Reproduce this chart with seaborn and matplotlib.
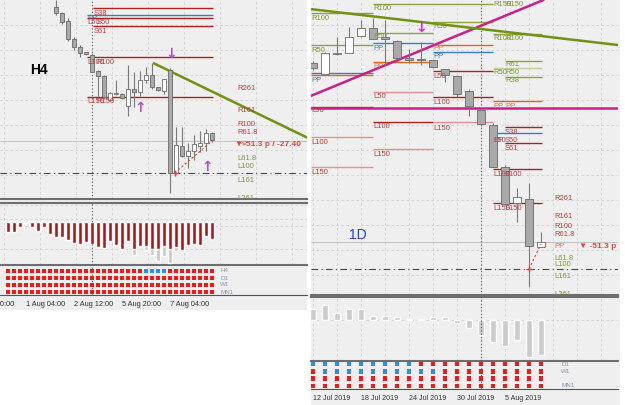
import numpy as np
import pandas as pd
import matplotlib
matplotlib.use('Agg')
import matplotlib.pyplot as plt
from matplotlib.patches import Rectangle
import seaborn as sns

# ---------------- H4 panel data (prices in chart units) ----------------
h4_bar = list(range(8, 35))
h4_open = [193, 187, 179, 161, 153, 148, 145, 129, 124, 100, 106, 106, 94, 111, 108, 120,
           125, 113, 109, 130, 27, 54, 44, 49, 54, 57, 67]
h4_high = [200, 188, 182, 163, 155, 148, 147, 130, 125, 108, 120, 107, 135, 128, 129, 133,
           137, 113, 121, 132, 73, 73, 57, 65, 69, 71, 68]
h4_low = [185, 176, 159, 150, 143, 145, 128, 103, 101, 99, 105, 101, 84, 93, 104, 117,
          111, 109, 106, 7, 26, 43, 32, 40, 48, 49, 58]
h4_close = [187, 178, 161, 153, 147, 146, 128, 124, 103, 107, 107, 102, 111, 108, 120, 125,
            113, 110, 121, 27, 55, 44, 49, 56, 57, 67, 60]

h4_hist = [-10.3, -10.3, -5.3, -0.5, -5, -9.3, -5, -12.3, -14.7, -14.7, -18.3, -21, -22, -20,
           -22, -25.3, -26, -19.3, -22.7, -27, -19.3, -27, -24.3, -23.7, -27, -27, -24.3, -27,
           -25, -28.3, -22.7, -21.7, -22.7, -14.3, -16.7]
h4_hist_gray = [-10.3, -10.3, -5.3, -0.5, -5, -9.3, -5, -12.3, -14.7, -14.7, -18.3, -21, -22,
                -20, -22, -25.3, -26, -19.3, -22.7, -27, -19.3, -33, -24.3, -27.7, -33, -39.3,
                -34, -41, -28.7, -30, -22.7, -21.7, -22.7, -14.3, -16.7]

h4_rows = ['H4', 'D1', 'W1', 'MN1']
h4_signal = ['R' * 23 + 'B' * 4 + 'R' * 8, 'R' * 35, 'R' * 35, 'R' * 35]

h4_lvl_price = [192, 184.7, 182, 174, 142.7, 103.3]
h4_lvl_start = [14.2, 13.2, 13.2, 14.2, 13.2, 13.2]
h4_lvl_end = [34.2] * 6
h4_lvl_kind = ['r', 'b', 'r', 'r', 'r', 'r']

h4_tag_text = ['S38', 'PP', 'L50', 'S50', 'S61', 'L100', 'R100', 'L150', 'R150']
h4_tag_k = [14.2, 13.2, 13.2, 14.7, 14.2, 13.2, 14.7, 13.2, 14.7]
h4_tag_price = [186.5, 181.5, 177, 177, 168.5, 138, 138, 98.5, 98.5]
h4_tag_kind = ['r', 'b', 'r', 'r', 'r', 'r', 'r', 'r', 'r']

side_text = ['R261', 'R161', 'R100', 'R61.8', 'PP', 'L61.8', 'L100', 'L161', 'L261']
side_kind = ['r', 'r', 'r', 'r', 'o', 'g', 'g', 'g', 'g']
h4_side_price = [111, 90, 76, 68, 56, 42, 33, 19, 1]

h4_trend_k = [24.2, 50]
h4_trend_price = [137, 62]
h4_last_low = 27
h4_bid = 59
h4_path_k = [27.8, 34.2]
h4_path_price = [27, 60]
h4_arrow_k = [27.2, 22, 33.2]
h4_arrow_price = [146, 92, 33]
h4_arrow_dir = ['↓', '↑', '↑']
h4_ticks = [3, 11, 19, 27]
h4_tick_labels = ['1 Aug 04:00', '2 Aug 12:00', '5 Aug 20:00', '7 Aug 04:00']

# ---------------- D1 panel data ----------------
d1_bar = list(range(20))
d1_open = [237, 226, 246, 247, 264, 272, 263, 259, 242, 241, 240, 231, 224, 209, 190, 175,
           133, 97, 101, 53]
d1_high = [239, 248, 263, 273, 280, 282, 280, 260, 251, 258, 240, 231, 224, 211, 192, 177,
           135, 112, 117, 68]
d1_low = [230, 226, 245, 247, 263, 261, 235, 241, 237, 235, 232, 218, 203, 184, 174, 133,
          95, 78, 13, 53]
d1_close = [232, 247, 246.5, 263, 272, 261, 261, 242, 240, 240.5, 233, 225, 206, 194, 176,
            133, 96, 103, 54, 58]

d1_hist = [10.7, 15, 7.3, 10.7, 11.3, 4.3, 4, 3, 1.3, 0.7, 3, 3, -2.7, -8, -15, -21.7,
           -25.7, -20, -37.3, -35]

d1_rows = ['D1', 'W1', '', 'MN1']
d1_signal = ['B' * 9 + 'R' * 11, 'R' + 'B' * 10 + 'R' * 9, 'R' * 20, 'R' * 20]

d1_lvl_price = [287, 255, 227, 225, 193, 163, 133,
                296, 267, 257, 238, 208, 178, 151,
                296, 278, 255, 248, 229, 203, 178,
                266, 239, 232, 223, 199, 173, 167, 157, 131, 97]
d1_lvl_start = [-0.2] * 7 + [5] * 7 + [10] * 7 + [15, 16, 15, 16, 15, 16, 15, 16, 15, 15]
d1_lvl_end = [5] * 7 + [10] * 7 + [15] * 7 + [19.1] * 10
d1_lvl_kind = ['g', 'g', 'b', 'o', 'r', 's', 's',
               'g', 'g', 'b', 'o', 's', 'r', 's',
               'g', 'g', 'o', 'b', 'r', 'r', 's',
               'g', 'g', 'lg', 'g', 'o', 'r', 'b', 'r', 'r', 'r']

d1_tag_text = ['R100', 'R50', 'PP', 'L50', 'L100', 'L150',
               'R100', 'R50', 'PP', 'PP', 'L50', 'L100', 'L150',
               'R100', 'R50', 'PP', 'PP', 'L50', 'L100', 'L150',
               'R150', 'R150', 'R100', 'R100', 'R61', 'R50', 'R50', 'R38', 'PP', 'PP',
               'S38', 'PP', 'L50', 'S50', 'S61', 'L100', 'S100', 'L150', 'S150']
d1_tag_k = [-0.1] * 6 + [5] * 7 + [10] * 7 + [15, 16, 15, 16, 16, 15, 16, 16, 15, 16,
                                              16, 15, 15, 16, 16, 15, 16, 15, 16]
d1_tag_price = [281, 250, 220, 189, 158, 127,
                291, 263, 251, 234, 203, 174, 145,
                301, 273, 251, 244, 223, 198, 172,
                295, 295, 261, 261, 235, 227, 227, 219, 194, 194,
                168, 160, 160, 160, 152, 126, 126, 92, 92]
d1_tag_kind = ['g', 'g', 'b', 'r', 'r', 'r',
               'g', 'g', 'b', 'o', 'r', 'r', 'r',
               'g', 'g', 'o', 'b', 'r', 'r', 'r',
               'g', 'g', 'g', 'g', 'g', 'g', 'g', 'g', 'o', 'o',
               'r', 'b', 'r', 'r', 'r', 'r', 'r', 'r', 'r']
d1_side_price = [102, 83, 73, 65, 54, 42, 36, 23, 5]

d1_trend_k = [-0.25, 25.4]
d1_trend_price = [291, 255]
d1_channel_k = [-0.2, 19.2]
d1_channel_price = [204, 300]
d1_flat_magenta = 192
d1_last_low = 31
d1_bid = 58
d1_path_k = [18, 19]
d1_path_price = [31, 56]
d1_arrow_k = [9]
d1_arrow_price = [272]
d1_ticks = [0, 4, 8, 12, 16]
d1_tick_labels = ['12 Jul 2019', '18 Jul 2019', '24 Jul 2019', '30 Jul 2019', '5 Aug 2019']

# ---------------- styling ----------------
sns.set_style('white')
plt.rcParams['font.family'] = ['Liberation Sans', 'DejaVu Sans']

LINE = {'r': '#b21f1f', 's': '#e39191', 'g': '#8ba43f', 'lg': '#bfcd98',
        'b': '#3b7dc4', 'o': '#e0661c'}
TXT = {'r': '#c43c3c', 'g': '#7f9b36', 'b': '#3a7cc4', 'o': '#e0793a'}
BG = '#efefef'
GRID = '#d2d2d2'
W, H = 625, 405

fig = plt.figure(figsize=(W / 100, H / 100), dpi=100)
fig.patch.set_facecolor('white')


def panel_bg(x0, y0, x1, y1):
    fig.add_artist(Rectangle((x0 / W, 1 - y1 / H), (x1 - x0) / W, (y1 - y0) / H,
                             transform=fig.transFigure, facecolor=BG, edgecolor='none', zorder=0))


def add_box(x0, y0, x1, y1):
    ax = fig.add_axes([x0 / W, 1 - y1 / H, (x1 - x0) / W, (y1 - y0) / H])
    ax.set_facecolor('none')
    ax.set_xticks([])
    ax.set_yticks([])
    for s in ax.spines.values():
        s.set_visible(False)
    return ax


def draw_candles(ax, k, o, h, l, c, width):
    df = pd.DataFrame(dict(k=k, o=o, h=h, l=l, c=c))
    up = df.c >= df.o
    ax.vlines(df.k, df.l, df.h, color='#7a7a7a', lw=0.8, zorder=4)
    lo = df[['o', 'c']].min(axis=1)
    body = (df.c - df.o).abs().clip(lower=0.9)
    ax.bar(df.k, body, bottom=lo, width=width, color=np.where(up, 'white', '#a9a9a9'),
           edgecolor='#6a6a6a', linewidth=0.6, zorder=5)


def draw_levels(ax, price, start, end, kind):
    for p, a, b, kd in zip(price, start, end, kind):
        ax.hlines(p, a, b, color=LINE[kd], lw=1.0, zorder=2)


def draw_tags(ax, text, k, price, kind, size=5.5):
    for t, x, p, kd in zip(text, k, price, kind):
        ax.text(x, p, t, color=TXT[kd], fontsize=size, ha='left', va='center',
                zorder=6, clip_on=True)


def grid(ax, xs, ys):
    for x in xs:
        ax.axvline(x, color=GRID, lw=0.6, ls=(0, (3, 3)), zorder=1)
    for y in ys:
        ax.axhline(y, color=GRID, lw=0.6, ls=(0, (3, 3)), zorder=1)


def draw_dots(ax, rows, signal, size):
    recs = []
    for r, sig in enumerate(signal):
        for k, ch in enumerate(sig):
            recs.append(dict(k=k, row=r, state=ch))
    dots = pd.DataFrame(recs)
    sns.scatterplot(data=dots, x='k', y='row', hue='state',
                    palette={'R': '#f21818', 'B': '#2a8ef0'}, marker='s', s=size,
                    linewidth=0, legend=False, ax=ax, zorder=3)
    ax.set_xlabel('')
    ax.set_ylabel('')


# ================= H4 (left) =================
panel_bg(0, 0, 307, 310)
h4_xlim = ((0 - 8) / 6, (307 - 8) / 6)
h4_vgrid = [(x - 8) / 6 for x in range(4, 307, 36)]

ax1 = add_box(0, 0, 307, 199)
ax1.set_xlim(h4_xlim)
ax1.set_ylim(1, 200)
grid(ax1, h4_vgrid, [175, 150, 125, 100, 75, 50, 25])
ax1.axvline(14, color='#555555', lw=0.8, ls=(0, (1, 2)), zorder=2)
ax1.axhline(h4_bid, color='#c4c4c4', lw=0.8, zorder=1)
ax1.axhline(h4_last_low, color='#4a4a4a', lw=0.8, ls=(0, (6, 3, 1, 3)), zorder=2)
draw_levels(ax1, h4_lvl_price, h4_lvl_start, h4_lvl_end, h4_lvl_kind)
draw_tags(ax1, h4_tag_text, h4_tag_k, h4_tag_price, h4_tag_kind)
ax1.plot(h4_trend_k, h4_trend_price, color='#6f9212', lw=1.8, zorder=3, solid_capstyle='butt')
draw_candles(ax1, h4_bar, h4_open, h4_high, h4_low, h4_close, 0.67)
ax1.plot(h4_path_k, h4_path_price, color='#d04848', lw=0.8, ls=(0, (2, 2)), zorder=6)
ax1.plot(h4_path_k[:1], h4_path_price[:1], marker='+', color='#d04848', ms=4, mew=1, zorder=7)
draw_tags(ax1, side_text, [38.2] * len(side_text), h4_side_price, side_kind)
ax1.text(37.8, 56, '▼-51.3 p / -27.40', color='#e04848', fontsize=6, fontweight='bold',
         ha='left', va='center', zorder=7, clip_on=True, family=['Liberation Sans', 'DejaVu Sans'])
for k, p, a in zip(h4_arrow_k, h4_arrow_price, h4_arrow_dir):
    ax1.text(k, p, a, color='#b14ed6', fontsize=10, fontweight='bold', ha='center',
             va='center', family='DejaVu Sans', zorder=7)
ax1.text(5.2, 130, 'H4', fontsize=10, fontweight='bold', color='black', ha='center', va='center')
ax1.spines['bottom'].set_visible(True)
ax1.spines['bottom'].set_color('#6e6e6e')
ax1.spines['bottom'].set_linewidth(1.5)

ax2 = add_box(0, 203, 307, 265)
grid(ax2, h4_vgrid, [17, 3, -4, -27])
sns.barplot(x=list(range(35)), y=h4_hist_gray, native_scale=True, color='#c8c8c8',
            saturation=1, width=0.83, errorbar=None, ax=ax2, zorder=3)
sns.barplot(x=list(range(35)), y=h4_hist, native_scale=True, color='#a61b1b',
            saturation=1, width=0.83, errorbar=None, ax=ax2, zorder=4)
ax2.axvline(14, color='#555555', lw=0.8, ls=(0, (1, 2)), zorder=5)
ax2.set_xlim(h4_xlim)
ax2.set_ylim(-43, 19)
ax2.set_xticks([])
ax2.set_yticks([])
ax2.set_xlabel('')
ax2.set_ylabel('')
for s in ['top', 'bottom']:
    ax2.spines[s].set_visible(True)
    ax2.spines[s].set_color('#6e6e6e')
    ax2.spines[s].set_linewidth(1.5)
for s in ['left', 'right']:
    ax2.spines[s].set_visible(False)

ax3 = add_box(0, 266, 307, 295)
draw_dots(ax3, h4_rows, h4_signal, 11)
ax3.axvline(14, color='#555555', lw=0.8, ls=(0, (1, 2)), zorder=5)
ax3.set_xlim(h4_xlim)
ax3.set_ylim((295 - 271) / 7, (266 - 271) / 7)
for r, name in enumerate(h4_rows):
    ax3.text(35.4, r, name, fontsize=4.5, color='#8a97a8', ha='left', va='center')
ax3.spines['bottom'].set_visible(True)
ax3.spines['bottom'].set_color('#555555')
ax3.spines['bottom'].set_linewidth(0.8)
ax3.set_xticks(h4_ticks)
ax3.set_xticklabels(h4_tick_labels)
ax3.set_yticks([])
ax3.tick_params(axis='x', direction='out', length=3, width=0.7, color='#555555', pad=1,
                labelsize=5.3, labelcolor='#333333')
for lab in ax3.get_xticklabels():
    lab.set_horizontalalignment('left')
# previous session label, mostly outside the left edge of the picture
ax3.text(-5.7, -0.2, '30 Jul 20:00', transform=ax3.get_xaxis_transform(), fontsize=5.3,
         color='#333333', ha='left', va='top', clip_on=False)

# ================= D1 (right) =================
panel_bg(311, 0, 620, 405)
d1_xlim = ((311 - 313) / 12, (618 - 313) / 12)
d1_vgrid = list(range(0, 26, 2))

bx1 = add_box(311, 0, 618, 295)
bx1.set_xlim(d1_xlim)
bx1.set_ylim(5, 300)
grid(bx1, d1_vgrid, [275, 250, 225, 200, 175, 150, 125, 100, 75, 50, 25])
bx1.axvline(14, color='#555555', lw=0.8, ls=(0, (1, 2)), zorder=2)
bx1.axhline(d1_bid, color='#c4c4c4', lw=0.8, zorder=1)
bx1.axhline(d1_last_low, color='#4a4a4a', lw=0.8, ls=(0, (6, 3, 1, 3)), zorder=2)
draw_levels(bx1, d1_lvl_price, d1_lvl_start, d1_lvl_end, d1_lvl_kind)
draw_tags(bx1, d1_tag_text, d1_tag_k, d1_tag_price, d1_tag_kind)
bx1.axhline(d1_flat_magenta, color='#cc1f8c', lw=1.8, zorder=3)
bx1.plot(d1_channel_k, d1_channel_price, color='#cc1f8c', lw=1.8, zorder=3)
bx1.plot(d1_trend_k, d1_trend_price, color='#6f9212', lw=1.8, zorder=3)
draw_candles(bx1, d1_bar, d1_open, d1_high, d1_low, d1_close, 0.67)
bx1.plot(d1_path_k, d1_path_price, color='#d04848', lw=0.8, ls=(0, (2, 2)), zorder=6)
bx1.plot(d1_path_k[:1], d1_path_price[:1], marker='+', color='#d04848', ms=4, mew=1, zorder=7)
draw_tags(bx1, side_text, [20.1] * len(side_text), d1_side_price, side_kind)
bx1.text(22.2, 54, '▼ -51.3 p / -27.40', color='#e04848', fontsize=6, fontweight='bold',
         ha='left', va='center', zorder=7, clip_on=True, family=['Liberation Sans', 'DejaVu Sans'])
for k, p in zip(d1_arrow_k, d1_arrow_price):
    bx1.text(k, p, '↓', color='#e22ad0', fontsize=10, fontweight='bold', ha='center',
             va='center', family='DejaVu Sans', zorder=7)
bx1.text(3.75, 65, '1D', fontsize=10, color='#2a3ed2', ha='center', va='center')
bx1.spines['bottom'].set_visible(True)
bx1.spines['bottom'].set_color('#6e6e6e')
bx1.spines['bottom'].set_linewidth(1.5)

bx2 = add_box(311, 297, 618, 361)
grid(bx2, d1_vgrid, [0])
sns.barplot(x=d1_bar, y=d1_hist, native_scale=True, color='#cbcbcb', saturation=1,
            width=0.42, errorbar=None, ax=bx2, zorder=3)
bx2.axvline(14, color='#555555', lw=0.8, ls=(0, (1, 2)), zorder=5)
bx2.set_xlim(d1_xlim)
bx2.set_ylim(-41, 23)
bx2.set_xticks([])
bx2.set_yticks([])
bx2.set_xlabel('')
bx2.set_ylabel('')
for s in ['top', 'bottom']:
    bx2.spines[s].set_visible(True)
    bx2.spines[s].set_color('#6e6e6e')
    bx2.spines[s].set_linewidth(1.5)
for s in ['left', 'right']:
    bx2.spines[s].set_visible(False)

bx3 = add_box(311, 361, 618, 389)
draw_dots(bx3, d1_rows, d1_signal, 10)
bx3.axvline(14, color='#555555', lw=0.8, ls=(0, (1, 2)), zorder=5)
bx3.set_xlim(d1_xlim)
bx3.set_ylim((389 - 364) / 7.33, (361 - 364) / 7.33)
for r, name in enumerate(d1_rows):
    bx3.text(20.7, r, name, fontsize=4.5, color='#8a97a8', ha='left', va='center')
bx3.spines['bottom'].set_visible(True)
bx3.spines['bottom'].set_color('#555555')
bx3.spines['bottom'].set_linewidth(0.8)
bx3.set_xticks(d1_ticks)
bx3.set_xticklabels(d1_tick_labels)
bx3.set_yticks([])
bx3.tick_params(axis='x', direction='out', length=3, width=0.7, color='#555555', pad=1,
                labelsize=5.1, labelcolor='#333333')
for lab in bx3.get_xticklabels():
    lab.set_horizontalalignment('left')

fig.savefig('out.png', dpi=100, facecolor='white')
